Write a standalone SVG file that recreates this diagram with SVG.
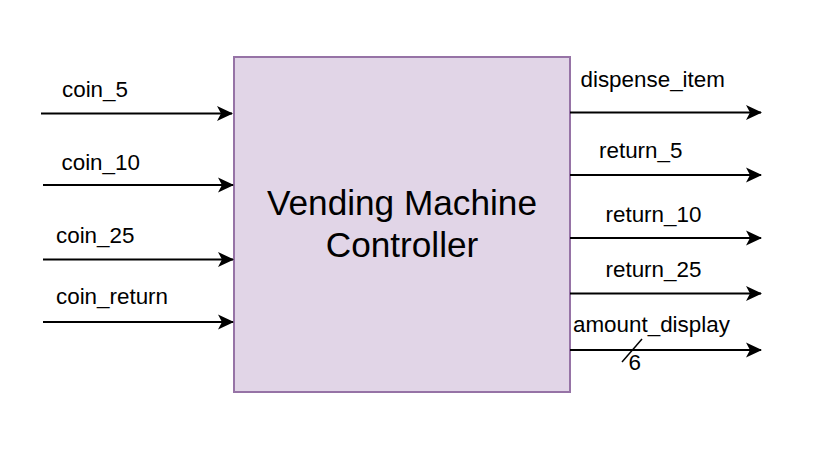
<svg xmlns="http://www.w3.org/2000/svg" width="832" height="457" viewBox="0 0 832 457">
<style>
.lbl{font-family:"Liberation Sans",Arial,sans-serif;font-size:22.4px;fill:#000}
.main{font-family:"Liberation Sans",Arial,sans-serif;font-size:35.2px;fill:#000;text-anchor:middle}
.wire{stroke:#000;stroke-width:2;fill:none;marker-end:url(#arr)}
</style>
<defs>
<marker id="arr" markerUnits="userSpaceOnUse" viewBox="0 0 16 16" refX="15" refY="8" markerWidth="16" markerHeight="16" orient="auto">
<path d="M0,0.5 L16,8 L0,15.5 L4,8 Z" fill="#000"/>
</marker>
</defs>
<rect width="832" height="457" fill="#fff"/>
<g id="controller">
<rect x="234" y="57" width="336" height="335" fill="#e1d5e7" stroke="#9673a6" stroke-width="2"/>
<text class="main" x="402" y="215">Vending Machine</text>
<text class="main" x="402" y="257">Controller</text>
</g>
<g id="connectors">
<line class="wire" x1="41" y1="113.5" x2="232" y2="113.5"/>
<line class="wire" x1="43" y1="185" x2="233" y2="185"/>
<line class="wire" x1="43" y1="259.5" x2="233" y2="259.5"/>
<line class="wire" x1="43" y1="322" x2="233" y2="322"/>
<line class="wire" x1="570" y1="112.5" x2="761" y2="112.5"/>
<line class="wire" x1="570" y1="175" x2="761" y2="175"/>
<line class="wire" x1="570" y1="238" x2="761" y2="238"/>
<line class="wire" x1="570" y1="293.5" x2="761" y2="293.5"/>
<line class="wire" x1="570" y1="350" x2="761" y2="350"/>
<line x1="622" y1="362" x2="642" y2="339" stroke="#000" stroke-width="1.5"/>
</g>
<g id="labels">
<text class="lbl" x="62" y="97">coin_5</text>
<text class="lbl" x="61.5" y="170">coin_10</text>
<text class="lbl" x="56" y="243">coin_25</text>
<text class="lbl" x="56" y="304">coin_return</text>
<text class="lbl" x="580.5" y="87">dispense_item</text>
<text class="lbl" x="599" y="158">return_5</text>
<text class="lbl" x="605.5" y="221.5">return_10</text>
<text class="lbl" x="605.5" y="277">return_25</text>
<text class="lbl" x="573" y="331.5">amount_display</text>
<text class="lbl" x="628.5" y="370">6</text>
</g>
</svg>
